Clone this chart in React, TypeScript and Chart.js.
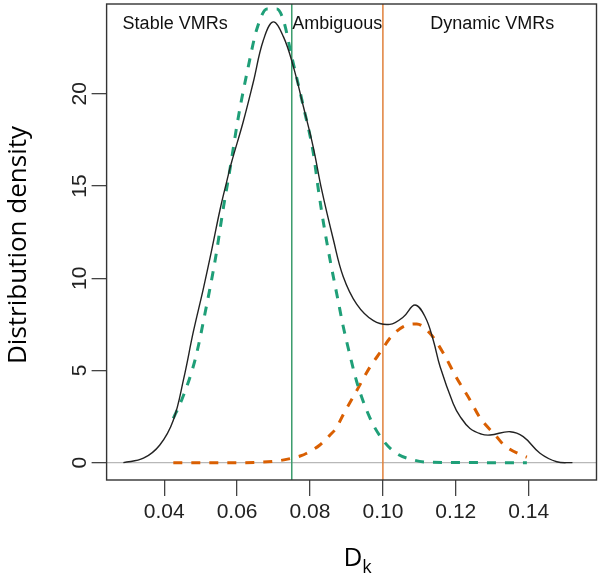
import React, { useEffect, useRef } from "react";
import { Chart, registerables } from "chart.js";

Chart.register(...registerables);

// ---- data ----
const densityX = [0.0288, 0.0343, 0.0388, 0.0425, 0.0454, 0.048, 0.0507, 0.053, 0.0553, 0.0571, 0.0585, 0.0617, 0.0644, 0.0672, 0.0699, 0.0727, 0.0754, 0.0782, 0.0809, 0.0832, 0.0864, 0.0891, 0.0928, 0.0974, 0.1019, 0.1056, 0.1088, 0.1116, 0.1138, 0.1157, 0.1193, 0.1212, 0.1239, 0.127, 0.1294, 0.1349, 0.1385, 0.1431, 0.1477, 0.152];
const densityY = [0, 0.24, 0.96, 2.3, 4.6, 7.1, 9.4, 11.5, 13.7, 15.2, 16.3, 18.5, 20.6, 22.9, 23.9, 23.1, 21.5, 19.3, 17.1, 14.8, 12.1, 10.1, 8.6, 7.7, 7.5, 7.9, 8.55, 7.9, 6.65, 5.2, 3.2, 2.5, 1.85, 1.55, 1.5, 1.68, 1.41, 0.51, 0.05, 0];

const stableX = [0.0425, 0.0448, 0.0475, 0.049, 0.0512, 0.054, 0.0563, 0.0577, 0.0604, 0.0631, 0.0654, 0.0682, 0.0709, 0.0727, 0.075, 0.0782, 0.0809, 0.0823, 0.0837, 0.0855, 0.0877, 0.0891, 0.091, 0.0928, 0.0965, 0.1001, 0.1038, 0.1083, 0.1129, 0.1395];
const stableY = [2.4, 3.4, 4.9, 6.0, 8.1, 11.0, 13.9, 15.5, 18.8, 21.5, 23.5, 24.6, 24.6, 24.0, 22.0, 19.3, 16.8, 14.8, 13.0, 11.0, 8.8, 7.4, 5.8, 4.4, 2.4, 1.2, 0.5, 0.15, 0.02, 0];

const dynamicX = [0.0425, 0.06, 0.0709, 0.075, 0.0773, 0.0791, 0.0827, 0.0855, 0.0873, 0.0891, 0.0928, 0.0965, 0.0997, 0.1019, 0.1056, 0.1093, 0.1129, 0.1166, 0.1202, 0.1239, 0.1266, 0.1312, 0.133, 0.1381, 0.1395];
const dynamicY = [0, 0.0, 0.09, 0.24, 0.36, 0.51, 0.96, 1.5, 1.9, 2.6, 3.9, 5.2, 6.1, 6.75, 7.38, 7.52, 7.02, 5.93, 4.6, 3.4, 2.45, 1.41, 1.0, 0.4, 0.3];

const thresholds = [0.075, 0.1];
const thresholdColors = ["#3a9c6c", "#e0803a"];

const regionLabels = ["Stable VMRs", "Ambiguous", "Dynamic VMRs"];
const regionLabelX = [0.043, 0.0875, 0.13];
const regionLabelY = 23.8;

const xTicks = [0.04, 0.06, 0.08, 0.1, 0.12, 0.14];
const yTicks = [0, 5, 10, 15, 20];

const X_MIN = 0.0242;
const X_MAX = 0.1586;
const Y_MIN = -0.94;
const Y_MAX = 24.87;

const yTitle = "Distribution density";
const xTitleMain = "D";
const xTitleSub = "k";

const toPts = (xs: number[], ys: number[]) => xs.map((x, i) => ({ x, y: ys[i] }));

const zeroPad = (s: any) => {
  s.paddingTop = 0;
  s.paddingBottom = 0;
  s.paddingLeft = 0;
  s.paddingRight = 0;
};

const decorPlugin = {
  id: "decor",
  beforeDatasetsDraw(chart: any) {
    const { ctx, chartArea: a, scales } = chart;
    const xs = scales.x;
    const ys = scales.y;
    ctx.save();
    const y0 = ys.getPixelForValue(0);
    ctx.strokeStyle = "#b8b8b8";
    ctx.lineWidth = 1.3;
    ctx.beginPath();
    ctx.moveTo(a.left, y0);
    ctx.lineTo(a.right, y0);
    ctx.stroke();
    thresholds.forEach((t, i) => {
      const px = xs.getPixelForValue(t);
      ctx.strokeStyle = thresholdColors[i];
      ctx.lineWidth = 1.5;
      ctx.beginPath();
      ctx.moveTo(px, a.top);
      ctx.lineTo(px, a.bottom);
      ctx.stroke();
    });
    ctx.restore();
  },
  afterDraw(chart: any) {
    const { ctx, chartArea: a, scales } = chart;
    const xs = scales.x;
    const ys = scales.y;
    ctx.save();
    ctx.strokeStyle = "#333";
    ctx.lineWidth = 1.4;
    ctx.strokeRect(a.left, a.top, a.right - a.left, a.bottom - a.top);
    ctx.fillStyle = "#111";
    ctx.font = '18px "Liberation Sans", Arial, sans-serif';
    ctx.textAlign = "center";
    ctx.textBaseline = "middle";
    regionLabels.forEach((t, i) => {
      ctx.fillText(t, xs.getPixelForValue(regionLabelX[i]), ys.getPixelForValue(regionLabelY));
    });
    ctx.fillStyle = "#000";
    ctx.font = '26px "Open Sans", sans-serif';
    ctx.save();
    ctx.translate(19, (a.top + a.bottom) / 2 + 3);
    ctx.rotate(-Math.PI / 2);
    ctx.textAlign = "center";
    ctx.textBaseline = "middle";
    ctx.fillText(yTitle, 0, 0);
    ctx.restore();
    ctx.textAlign = "left";
    ctx.textBaseline = "alphabetic";
    ctx.font = '26px "Open Sans", sans-serif';
    const wD = ctx.measureText(xTitleMain).width;
    ctx.font = '18px "Open Sans", sans-serif';
    const wk = ctx.measureText(xTitleSub).width;
    const cx = (a.left + a.right) / 2 + 6;
    const startX = cx - (wD + wk) / 2;
    ctx.font = '26px "Open Sans", sans-serif';
    ctx.fillText(xTitleMain, startX, 566);
    ctx.font = '18px "Open Sans", sans-serif';
    ctx.fillText(xTitleSub, startX + wD, 573);
    ctx.restore();
  },
};

export default function App() {
  const ref = useRef<HTMLCanvasElement | null>(null);
  useEffect(() => {
    if (!ref.current) return;
    const common = {
      showLine: true,
      pointRadius: 0,
      fill: false,
    };
    const chart = new Chart(ref.current, {
      type: "scatter",
      data: {
        datasets: [
          { ...common, label: "density", data: toPts(densityX, densityY), borderColor: "#222", borderWidth: 1.4, tension: 0.4 },
          { ...common, label: "stable", data: toPts(stableX, stableY), borderColor: "#1f9f78", borderWidth: 3, borderDash: [9, 9], borderCapStyle: "butt", cubicInterpolationMode: "monotone" },
          { ...common, label: "dynamic", data: toPts(dynamicX, dynamicY), borderColor: "#d95f02", borderWidth: 3, borderDash: [9, 9], borderCapStyle: "butt", cubicInterpolationMode: "monotone" },
        ],
      },
      options: {
        responsive: false,
        animation: false,
        layout: { padding: { left: 0, right: 4.5, top: 4, bottom: 0 } },
        plugins: { legend: { display: false }, tooltip: { enabled: false } },
        scales: {
          x: {
            type: "linear",
            min: X_MIN,
            max: X_MAX,
            afterBuildTicks: (s: any) => {
              s.ticks = xTicks.map((v) => ({ value: v }));
            },
            afterFit: (s: any) => {
              s.height = 101;
              zeroPad(s);
            },
            grid: { drawOnChartArea: false, drawTicks: true, tickLength: 16, color: "#444", lineWidth: 1.3 },
            border: { display: false },
            ticks: {
              autoSkip: false,
              maxRotation: 0,
              padding: 4,
              color: "#222",
              font: { family: '"Liberation Sans", Arial, sans-serif', size: 21 },
              callback: (v: any) => Number(v).toFixed(2),
            },
          },
          y: {
            type: "linear",
            min: Y_MIN,
            max: Y_MAX,
            afterBuildTicks: (s: any) => {
              s.ticks = yTicks.map((v) => ({ value: v }));
            },
            afterFit: (s: any) => {
              s.width = 106.6;
              zeroPad(s);
            },
            grid: { drawOnChartArea: false, drawTicks: true, tickLength: 15, color: "#444", lineWidth: 1.3 },
            border: { display: false },
            ticks: {
              autoSkip: false,
              minRotation: 90,
              maxRotation: 90,
              crossAlign: "center",
              padding: 0,
              color: "#222",
              font: { family: '"Liberation Sans", Arial, sans-serif', size: 21 },
              callback: (v: any) => String(v),
            },
          },
        },
      },
      plugins: [decorPlugin],
    } as any);
    return () => chart.destroy();
  }, []);
  return (
    <div style={{ position: "fixed", left: 0, top: 0, width: 601, height: 581, background: "#fff" }}>
      <canvas ref={ref} width={601} height={581} style={{ display: "block" }} />
    </div>
  );
}
